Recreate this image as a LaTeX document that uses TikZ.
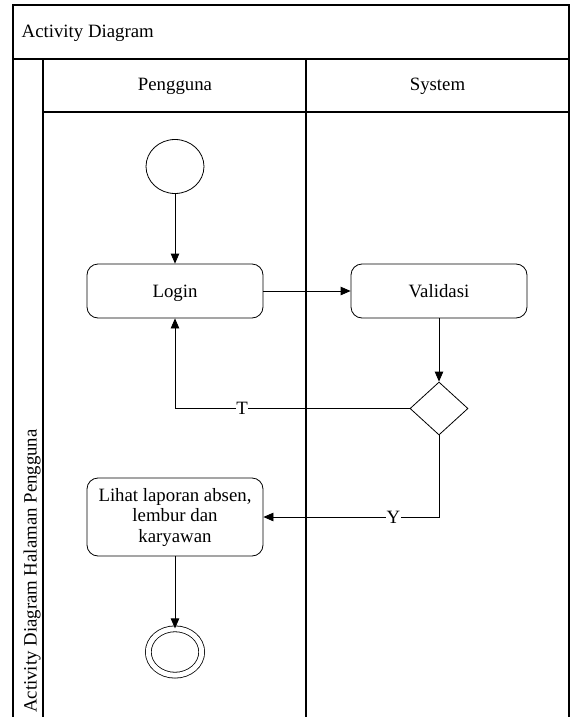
\documentclass[tikz,border=0pt]{standalone}
\usepackage{fontspec}
\setmainfont{Liberation Serif}
\usetikzlibrary{shapes.geometric,arrows.meta}
\begin{document}
\begin{tikzpicture}[x=1pt,y=-1pt,
  every node/.style={font=\fontsize{18.8}{20.5}\selectfont},
  frame/.style={draw=black,line width=1.1pt},
  lane/.style={draw=black,line width=1.6pt},
  act/.style={draw=black,line width=0.8pt,rounded corners=11pt,minimum width=176pt,minimum height=54pt,inner sep=2pt,align=center},
  oneline/.style={text height=12.4pt,text depth=0pt},
  startnode/.style={draw=black,line width=0.8pt,ellipse,minimum width=58pt,minimum height=54pt,inner sep=0pt},
  endnode/.style={ellipse,draw=black,double=white,double distance=5pt,line width=0.8pt,minimum width=53.4pt,minimum height=46.4pt,inner sep=0pt},
  decision/.style={draw=black,line width=0.8pt,diamond,minimum width=58pt,minimum height=53pt,inner sep=0pt},
  flow/.style={draw=black,line width=0.8pt,-{Triangle[length=10pt,width=8.5pt]}},
  lbl/.style={fill=white,inner sep=0.5pt}]
\useasboundingbox (0,0) rectangle (571,717);
% frame
\coordinate (tl) at (13,5);
\coordinate (tr) at (569,5);
\coordinate (bl) at (13,717);
\coordinate (br) at (569,717);
\draw[frame] (bl) -- (tl) -- (tr) -- (br);
\coordinate (h1l) at (13,59);
\coordinate (h1r) at (569,59);
\draw[frame] (h1l) -- (h1r);
\coordinate (lanetop) at (43,59);
\coordinate (lanebot) at (43,717);
\draw[frame] (lanetop) -- (lanebot);
\coordinate (h2l) at (43,112);
\coordinate (h2r) at (569,112);
\draw[frame] (h2l) -- (h2r);
\coordinate (divtop) at (306,59);
\coordinate (divbot) at (306,717);
\draw[lane] (divtop) -- (divbot);
% texts
\node[anchor=base west,inner sep=0pt] (title) at (21.5,37.3) {Activity Diagram};
\node[anchor=base,inner sep=0pt] (pengguna) at (175,90.7) {Pengguna};
\node[anchor=base,inner sep=0pt] (system) at (437.5,90.7) {System};
\node[anchor=base west,rotate=90,inner sep=0pt] (side) at (36.5,713) {Activity Diagram Halaman Pengguna};
% nodes
\node[startnode] (init) at (175,166.5) {};
\node[act,oneline] (login) at (175,291) {Login};
\node[act,oneline] (valid) at (439,291) {Validasi};
\node[decision] (dec) at (439,408.5) {};
\node[act,minimum height=78pt] (lihat) at (175,517) {Lihat laporan absen,\\lembur dan\\karyawan};
\node[endnode] (final) at (175,652) {};
% edges
\draw[flow] (init) -- (login);
\draw[flow] (login) -- (valid);
\draw[flow] (valid) -- (dec);
\draw[flow] (dec.west) -| node[lbl,oneline,pos=0.357] {T} (login.south);
\draw[flow] (dec.south) |- node[lbl,oneline,pos=0.63] {Y} (lihat.east);
\draw[flow] (lihat) -- (final);
\end{tikzpicture}
\end{document}
